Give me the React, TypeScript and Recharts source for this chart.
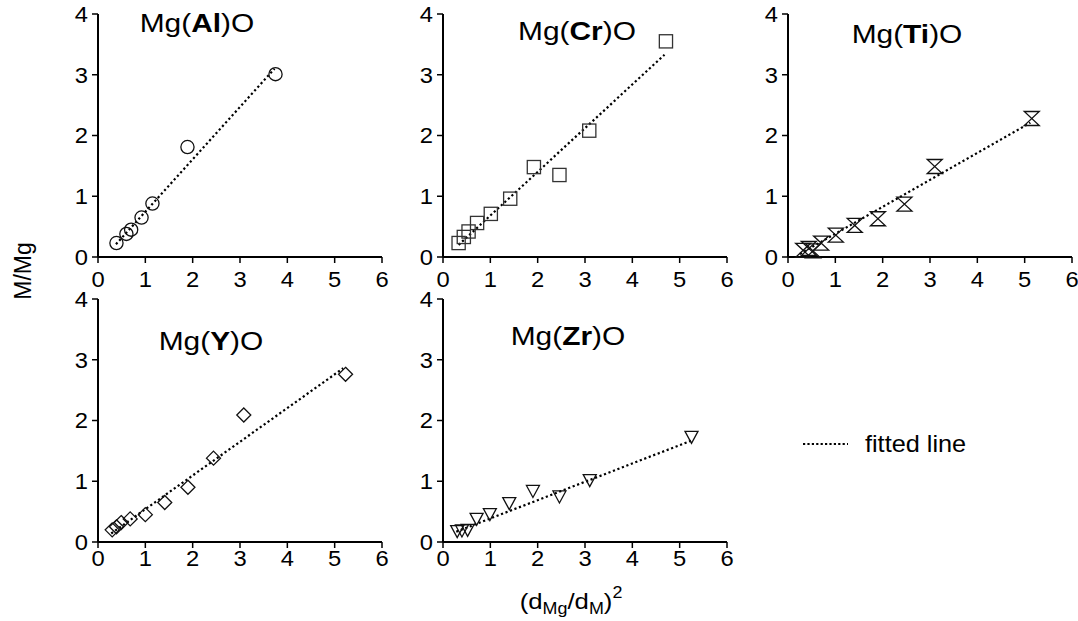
import { ScatterChart, Scatter, XAxis, YAxis, ReferenceLine } from 'recharts';

const FONT = '"Liberation Sans", Arial, sans-serif';

const xTicks = [0, 1, 2, 3, 4, 5, 6];
const yTicks = [0, 1, 2, 3, 4];

// Mg(Al)O
const alX = [0.39, 0.6, 0.7, 0.92, 1.15, 1.89, 3.75];
const alY = [0.23, 0.38, 0.45, 0.65, 0.88, 1.81, 3.01];
const alFitX = [0.38, 3.73];
const alFitY = [0.21, 3.1];

// Mg(Cr)O
const crX = [0.33, 0.44, 0.54, 0.72, 1.01, 1.42, 1.92, 2.46, 3.09, 4.71];
const crY = [0.23, 0.33, 0.42, 0.56, 0.71, 0.96, 1.48, 1.35, 2.08, 3.55];
const crFitX = [0.33, 4.68];
const crFitY = [0.2, 3.33];

// Mg(Ti)O
const tiX = [0.32, 0.44, 0.53, 0.7, 1.01, 1.41, 1.9, 2.46, 3.1, 5.15];
const tiY = [0.11, 0.14, 0.1, 0.23, 0.36, 0.52, 0.63, 0.87, 1.49, 2.28];
const tiFitX = [0.25, 5.12];
const tiFitY = [0.05, 2.21];

// Mg(Y)O
const yX = [0.3, 0.39, 0.49, 0.68, 1.0, 1.41, 1.9, 2.44, 3.08, 5.23];
const yY = [0.2, 0.25, 0.32, 0.38, 0.45, 0.65, 0.9, 1.38, 2.09, 2.76];
const yFitX = [0.28, 5.18];
const yFitY = [0.14, 2.86];

// Mg(Zr)O
const zrX = [0.3, 0.4, 0.52, 0.71, 0.99, 1.4, 1.9, 2.46, 3.1, 5.25];
const zrY = [0.18, 0.19, 0.2, 0.38, 0.46, 0.64, 0.84, 0.75, 1.02, 1.73];
const zrFitX = [0.28, 5.25];
const zrFitY = [0.17, 1.67];

type Kind = 'circle' | 'square' | 'hourglass' | 'diamond' | 'triangle';

const panels = [
  { el: 'Al', xs: alX, ys: alY, fx: alFitX, fy: alFitY, kind: 'circle' as Kind, left: 98.3, top: 14, tx: 197, ty: 32, xGap: 8 },
  { el: 'Cr', xs: crX, ys: crY, fx: crFitX, fy: crFitY, kind: 'square' as Kind, left: 443, top: 14, tx: 577, ty: 40, xGap: 8 },
  { el: 'Ti', xs: tiX, ys: tiY, fx: tiFitX, fy: tiFitY, kind: 'hourglass' as Kind, left: 788.3, top: 14, tx: 907, ty: 43, xGap: 8 },
  { el: 'Y', xs: yX, ys: yY, fx: yFitX, fy: yFitY, kind: 'diamond' as Kind, left: 98.3, top: 299, tx: 211, ty: 350, xGap: 2 },
  { el: 'Zr', xs: zrX, ys: zrY, fx: zrFitX, fy: zrFitY, kind: 'triangle' as Kind, left: 443.3, top: 298.5, tx: 568, ty: 345, xGap: 2 },
];

const PW = 284;
const PH = 243;
const ML = 60;
const MT = 20;
const MR = 20;
const MB = 40;

function Marker({ cx, cy, kind }: { cx?: number; cy?: number; kind: Kind }) {
  if (cx == null || cy == null) return null;
  const s = { fill: 'none', stroke: '#111', strokeWidth: 1.3 };
  if (kind === 'circle') return <circle cx={cx} cy={cy} r={6.6} {...s} />;
  if (kind === 'square') return <rect x={cx - 6.6} y={cy - 6.6} width={13.2} height={13.2} {...s} stroke="#333" />;
  if (kind === 'hourglass')
    return <path d={`M${cx - 7.5},${cy - 7}L${cx + 7.5},${cy - 7}L${cx - 7.5},${cy + 7}L${cx + 7.5},${cy + 7}Z`} {...s} />;
  if (kind === 'diamond')
    return <path d={`M${cx},${cy - 7}L${cx + 7},${cy}L${cx},${cy + 7}L${cx - 7},${cy}Z`} {...s} />;
  return <path d={`M${cx - 6.5},${cy - 5.5}L${cx + 6.5},${cy - 5.5}L${cx},${cy + 6.5}Z`} {...s} />;
}

function XTick(props: any) {
  const { x, y, payload } = props;
  return (
    <text x={x} y={y} dy="0.71em" textAnchor="middle" fontSize={22} fontFamily={FONT} fill="#000"
      transform={`translate(${x},0) scale(1.08,1) translate(${-x},0)`}>
      {payload.value}
    </text>
  );
}

function YTick(props: any) {
  const { x, y, payload } = props;
  return (
    <text x={x} y={y} dy="0.36em" textAnchor="end" fontSize={22} fontFamily={FONT} fill="#000"
      transform={`translate(${x},0) scale(1.08,1) translate(${-x},0)`}>
      {payload.value}
    </text>
  );
}

function Panel({ p }: { p: (typeof panels)[number] }) {
  const data = p.xs.map((x, i) => ({ x, y: p.ys[i] }));
  return (
    <div style={{ position: 'absolute', left: p.left - ML, top: p.top - MT }}>
      <ScatterChart width={PW + ML + MR} height={PH + MT + MB} margin={{ top: MT, right: MR, left: 0, bottom: 0 }}>
        <XAxis dataKey="x" type="number" domain={[0, 6]} ticks={xTicks} height={MB}
          axisLine={{ stroke: '#000', strokeWidth: 2 }} tickLine={{ stroke: '#000', strokeWidth: 1.5 }}
          tickSize={6} tickMargin={p.xGap} tick={<XTick />} interval={0} />
        <YAxis dataKey="y" type="number" domain={[0, 4]} ticks={yTicks} width={ML}
          axisLine={{ stroke: '#000', strokeWidth: 2 }} tickLine={{ stroke: '#000', strokeWidth: 1.5 }}
          tickSize={6} tickMargin={4} tick={<YTick />} interval={0} />
        <ReferenceLine
          segment={[{ x: p.fx[0], y: p.fy[0] }, { x: p.fx[1], y: p.fy[1] }]}
          stroke="#000" strokeWidth={2.2} strokeDasharray="2.2 2.6"
        />
        <Scatter data={data} isAnimationActive={false} shape={(sp: any) => <Marker cx={sp.cx} cy={sp.cy} kind={p.kind} />} />
      </ScatterChart>
    </div>
  );
}

export default function App() {
  return (
    <div style={{ position: 'absolute', left: 0, top: 0, width: 1078, height: 621, overflow: 'hidden', background: '#fff' }}>
      {panels.map((p) => (
        <Panel key={p.el} p={p} />
      ))}
      <svg width={1078} height={621} style={{ position: 'absolute', left: 0, top: 0, pointerEvents: 'none' }}>
        {panels.map((p) => (
          <text key={p.el} x={p.tx} y={p.ty} textAnchor="middle" fontSize={26} fontFamily={FONT} fill="#000"
            transform={`translate(${p.tx},0) scale(1.15,1) translate(${-p.tx},0)`}>
            Mg(<tspan fontWeight="bold">{p.el}</tspan>)O
          </text>
        ))}
        <text x={31} y={271} textAnchor="middle" fontSize={23} fontFamily={FONT} fill="#000" transform="rotate(-90 31 271)">
          M/Mg
        </text>
        <text x={571} y={609} textAnchor="middle" fontSize={23} fontFamily={FONT} fill="#000"
          transform="translate(571,0) scale(1.12,1) translate(-571,0)">
          (d<tspan fontSize={16} dy={5}>Mg</tspan><tspan dy={-5}>/d</tspan><tspan fontSize={16} dy={5}>M</tspan>
          <tspan dy={-5}>)</tspan><tspan fontSize={16} dy={-11}>2</tspan>
        </text>
        <line x1={803} y1={444} x2={848} y2={444} stroke="#000" strokeWidth={2.2} strokeDasharray="2.2 2.2" />
        <text x={865} y={452} fontSize={23} fontFamily={FONT} fill="#000"
          transform="translate(865,0) scale(1.1,1) translate(-865,0)">
          fitted line
        </text>
      </svg>
    </div>
  );
}
